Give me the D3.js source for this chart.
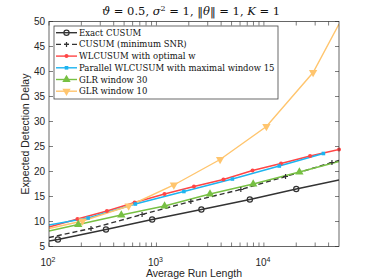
<!DOCTYPE html>
<html><head><meta charset="utf-8">
<script src="https://cdn.jsdelivr.net/npm/d3@7"></script>
<style>body{margin:0;background:#fff}svg{display:block}</style>
</head><body><svg id="c" width="374" height="280"></svg>
<script>
// ---- data ----
const seriesNames = ["Exact CUSUM","CUSUM (minimum SNR)","WLCUSUM with optimal w","Parallel WLCUSUM with maximal window 15","GLR window 30","GLR window 10"];
const exactX = [100,121,339,912,2620,7400,20000,50000];
const exactY = [6.1,6.4,8.4,10.4,12.4,14.4,16.5,18.3];
const minSnrX = [100,246,735,2090,6100,15900,43000,50000];
const minSnrY = [6.8,8.6,11.4,14.0,16.4,19.0,21.8,22.2];
const wlX = [100,184,346,626,1188,2234,4200,7840,14430,26900,50000];
const wlY = [8.9,10.5,12.1,13.8,15.5,17.0,18.4,20.2,21.6,23.1,24.4];
const parX = [100,231,636,1800,5090,13900,35800];
const parY = [9.3,10.7,13.5,16.0,18.5,21.1,23.6];
const glr30X = [100,187,471,1190,3150,7950,21400,50000];
const glr30Y = [8.1,9.4,11.3,13.1,15.5,17.5,19.9,22.0];
const glr10X = [100,205,551,1452,3910,10550,28700,50000];
const glr10Y = [8.6,10.1,13.1,17.3,22.4,29.0,39.8,49.5];
const yTicks = [5,10,15,20,25,30,35,40,45,50];
const xTicks = [100,1000,10000];
const xLabel = "Average Run Length";
const yLabel = "Expected Detection Delay";

// ---- layout ----
const L=49,R=339,T=21.5,B=246.5;
const svg=d3.select("#c");
const x=d3.scaleLog().domain([100,50000]).range([L,R]);
const y=d3.scaleLinear().domain([5,50]).range([B,T]);
const axisCol="#262626";

const series=[
 {name:seriesNames[0],xs:exactX,ys:exactY,color:"#333333",dash:null,marker:"circle",skipEnd:true},
 {name:seriesNames[1],xs:minSnrX,ys:minSnrY,color:"#333333",dash:"5,3",marker:"plus",skipEnd:true},
 {name:seriesNames[2],xs:wlX,ys:wlY,color:"#ff4545",dash:null,marker:"dot",skipEnd:false},
 {name:seriesNames[3],xs:parX,ys:parY,color:"#1db4f0",dash:null,marker:"square",skipEnd:false},
 {name:seriesNames[4],xs:glr30X,ys:glr30Y,color:"#77c043",dash:null,marker:"tri",skipEnd:true},
 {name:seriesNames[5],xs:glr10X,ys:glr10Y,color:"#ffc56e",dash:null,marker:"trid",skipEnd:true}
];

svg.append("defs").append("clipPath").attr("id","clip").append("rect")
 .attr("x",L).attr("y",T).attr("width",R-L).attr("height",B-T);

function drawMarker(g,type,cx,cy,color){
 if(type==="circle") g.append("circle").attr("cx",cx).attr("cy",cy).attr("r",2.6).attr("fill","none").attr("stroke",color).attr("stroke-width",1.2);
 else if(type==="plus") g.append("path").attr("d",`M${cx-2.5},${cy}H${cx+2.5}M${cx},${cy-2.5}V${cy+2.5}`).attr("stroke",color).attr("stroke-width",1.2);
 else if(type==="dot") g.append("circle").attr("cx",cx).attr("cy",cy).attr("r",2).attr("fill",color);
 else if(type==="square") g.append("rect").attr("x",cx-1.8).attr("y",cy-1.8).attr("width",3.6).attr("height",3.6).attr("fill",color);
 else if(type==="tri") g.append("path").attr("d",d3.symbol(d3.symbolTriangle,30)()).attr("transform",`translate(${cx},${cy})`).attr("fill",color);
 else if(type==="trid") g.append("path").attr("d",d3.symbol(d3.symbolTriangle,30)()).attr("transform",`translate(${cx},${cy}) rotate(180)`).attr("fill",color);
}

// axes box & ticks
const ax=svg.append("g");
const minor=[];
for(let k=2;k<=4;k++) for(let m=2;m<=9;m++){const v=m*Math.pow(10,k); if(v<50000) minor.push(v);}
[...xTicks,...minor].forEach(v=>{
 const px=x(v), len=4;
 ax.append("line").attr("x1",px).attr("x2",px).attr("y1",B).attr("y2",B-len).attr("stroke",axisCol).attr("stroke-width",0.6);
 ax.append("line").attr("x1",px).attr("x2",px).attr("y1",T).attr("y2",T+len).attr("stroke",axisCol).attr("stroke-width",0.6);
});
yTicks.forEach(v=>{
 const py=y(v);
 ax.append("line").attr("x1",L).attr("x2",L+4).attr("y1",py).attr("y2",py).attr("stroke",axisCol).attr("stroke-width",0.6);
 ax.append("line").attr("x1",R).attr("x2",R-4).attr("y1",py).attr("y2",py).attr("stroke",axisCol).attr("stroke-width",0.6);
 ax.append("text").attr("x",L-4).attr("y",py+3.5).attr("text-anchor","end")
  .attr("font-family","Liberation Sans, Arial, sans-serif").attr("font-size",10).attr("fill",axisCol).text(v);
});
xTicks.forEach(v=>{
 const t=ax.append("text").attr("x",x(v)-1).attr("y",266).attr("text-anchor","middle")
  .attr("font-family","Liberation Sans, Arial, sans-serif").attr("font-size",10).attr("fill",axisCol);
 t.append("tspan").text("10");
 t.append("tspan").attr("dy",-4.5).attr("font-size",7).text(Math.round(Math.log10(v)));
});
ax.append("text").attr("x",194).attr("y",277).attr("text-anchor","middle")
 .attr("font-family","Liberation Sans, Arial, sans-serif").attr("font-size",10.5).attr("fill",axisCol).text(xLabel);
ax.append("text").attr("transform",`translate(29,${(T+B)/2}) rotate(-90)`).attr("text-anchor","middle")
 .attr("font-family","Liberation Sans, Arial, sans-serif").attr("font-size",10.5).attr("fill",axisCol).text(yLabel);

// lines
const lineGen=d3.line().x(d=>x(d[0])).y(d=>y(d[1]));
const plot=svg.append("g").attr("clip-path","url(#clip)");
series.forEach(s=>{
 const pts=s.xs.map((v,i)=>[v,s.ys[i]]);
 plot.append("path").attr("d",lineGen(pts)).attr("fill","none").attr("stroke",s.color).attr("stroke-width",1.4)
  .attr("stroke-dasharray",s.dash);
});
series.forEach(s=>{
 const g=svg.append("g");
 s.xs.forEach((v,i)=>{
  if(i===0) return;
  if(s.skipEnd && i===s.xs.length-1) return;
  drawMarker(g,s.marker,x(v),y(s.ys[i]),s.color);
 });
});

svg.append("rect").attr("x",L).attr("y",T).attr("width",R-L).attr("height",B-T).attr("fill","none").attr("stroke",axisCol).attr("stroke-width",0.7);

// legend
const lg=svg.append("g");
lg.append("rect").attr("x",54).attr("y",26).attr("width",224).attr("height",73).attr("fill","#fff").attr("stroke","#444").attr("stroke-width",0.8);
series.forEach((s,i)=>{
 const cy=32.7+i*11.7;
 lg.append("line").attr("x1",56).attr("x2",77).attr("y1",cy).attr("y2",cy).attr("stroke",s.color).attr("stroke-width",1.4).attr("stroke-dasharray",s.dash);
 drawMarker(lg,s.marker,66.5,cy,s.color);
 lg.append("text").attr("x",79).attr("y",cy+3).attr("font-family","DejaVu Serif, serif").attr("font-size",8.5).attr("fill","#111").text(s.name);
});

// title
const tt=svg.append("text").attr("x",191).attr("y",15).attr("text-anchor","middle")
 .attr("font-family","DejaVu Serif, serif").attr("font-size",11.5).attr("fill","#111");
tt.append("tspan").attr("font-style","italic").text("ϑ");
tt.append("tspan").text(" = 0.5, ");
tt.append("tspan").attr("font-style","italic").text("σ");
tt.append("tspan").attr("dy",-4.5).attr("font-size",8).text("2");
tt.append("tspan").attr("dy",4.5).text(" = 1, ‖");
tt.append("tspan").attr("font-style","italic").text("θ");
tt.append("tspan").text("‖ = 1, ");
tt.append("tspan").attr("font-style","italic").text("K");
tt.append("tspan").text(" = 1");
</script></body></html>
